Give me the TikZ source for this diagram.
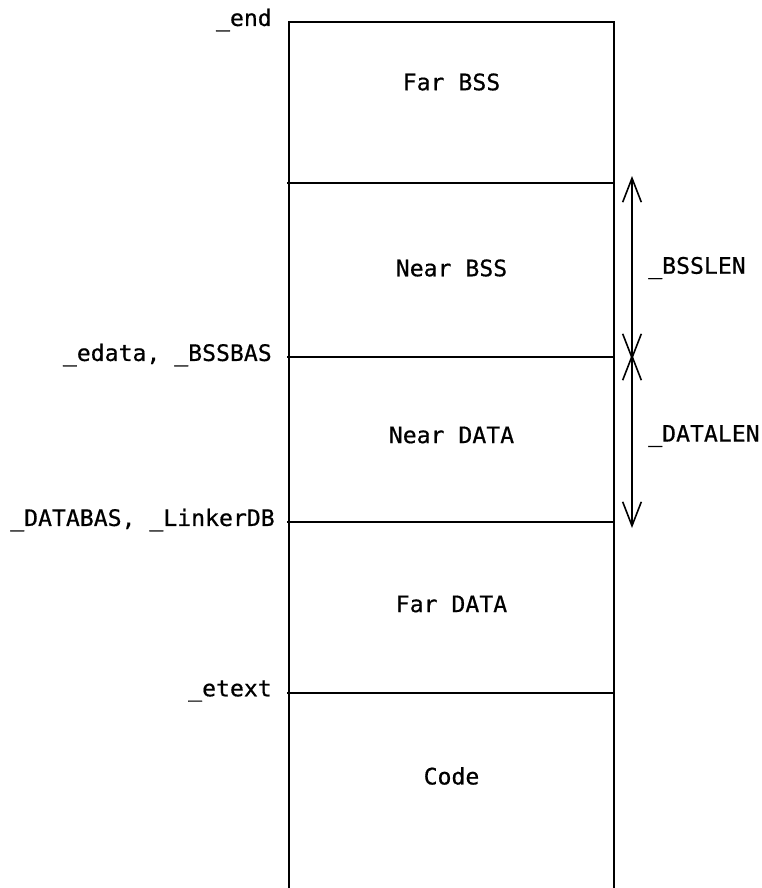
\documentclass[tikz,border=0pt]{standalone}
\usepackage{fontspec}
\newfontfamily\lgfont[FakeStretch=1.02,FakeBold=0.6]{DejaVu Sans Mono}
\usetikzlibrary{arrows.meta}
\begin{document}
\begin{tikzpicture}[x=0.75pt,y=-0.75pt,
  boxline/.style={line width=1.9pt},
  dim/.style={line width=1.2pt,{Straight Barb[length=18pt,width=14pt,line width=1.2pt]}-{Straight Barb[length=18pt,width=14pt,line width=1.2pt]}},
  seg/.style={font=\lgfont\fontsize{17}{20}\selectfont},
  addr/.style={font=\lgfont\fontsize{17}{20}\selectfont,anchor=east,inner sep=0pt}]
\useasboundingbox (0,0) rectangle (762,888);
% box frame
\coordinate (tl) at (289,22);
\coordinate (tr) at (614,22);
\coordinate (bl) at (289,892);
\coordinate (br) at (614,892);
\draw[boxline] (bl) -- (tl) -- (tr) -- (br);
% dividers
\foreach \n/\y in {d1/183,d2/357,d3/522,d4/693}{
  \coordinate (\n l) at (287,\y);
  \coordinate (\n r) at (614,\y);
  \draw[boxline] (\n l) -- (\n r);
}
% segment labels
\node[seg] (farbss) at (451.5,82) {Far BSS};
\node[seg] (nearbss) at (451.5,268) {Near BSS};
\node[seg] (neardata) at (451.5,435) {Near DATA};
\node[seg] (fardata) at (451.5,604) {Far DATA};
\node[seg] (code) at (451.5,776) {Code};
% address labels
\node[addr] (lend) at (272,20) {\_end};
\node[addr] (ledata) at (272,355) {\_edata, \_BSSBAS};
\node[addr] (ldatabas) at (275,520) {\_DATABAS, \_LinkerDB};
\node[addr] (letext) at (272,691) {\_etext};
% length arrows
\coordinate (a1) at (632,176);
\coordinate (a2u) at (632,360);
\coordinate (a2d) at (632,354);
\coordinate (a3) at (632,528);
\draw[dim] (a1) -- (a2u);
\draw[dim] (a2d) -- (a3);
\node[seg,anchor=west,inner sep=0pt] (bsslen) at (648,268) {\_BSSLEN};
\node[seg,anchor=west,inner sep=0pt] (datalen) at (648,436) {\_DATALEN};
\end{tikzpicture}
\end{document}
